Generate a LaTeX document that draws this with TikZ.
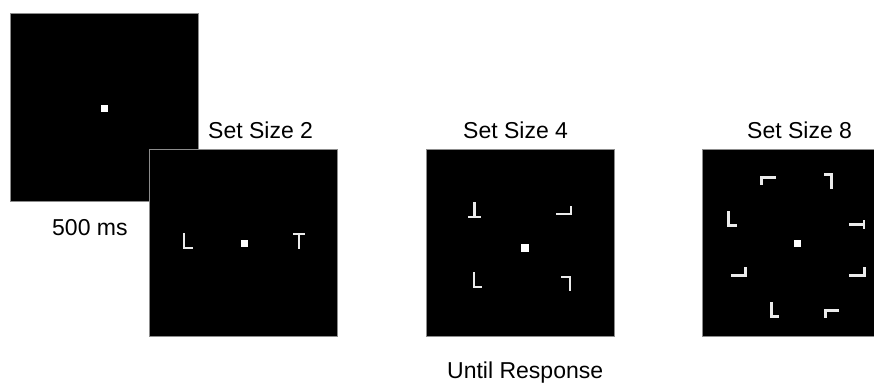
\documentclass[tikz,border=0pt]{standalone}
\usepackage{fontspec}
\setmainfont{Liberation Sans}
\begin{document}
\begin{tikzpicture}[x=1pt,y=-1pt,
  panel/.style={fill=black,draw=black!45,line width=0.8pt},
  stim/.style={draw=white!92!black,line width=2.2pt,line cap=butt},
  fix/.style={fill=white,draw=none},
  lab/.style={anchor=base west,inner sep=0pt,font=\fontsize{23}{26}\selectfont}]
\useasboundingbox (0,0) rectangle (874,383);
\begin{scope}
\clip (0,0) rectangle (874,383);
% panels
\filldraw[panel] (10,13) rectangle (198,201);
\filldraw[panel] (149,149) rectangle (337,336);
\fill[black] (149.6,149.6) rectangle (197.4,200.4);
\filldraw[panel] (426,149) rectangle (614,336);
\filldraw[panel] (702,149) rectangle (892,336);
\end{scope}
% fixations
\fill[fix] (100.5,104.5) rectangle ++(7,7);
\fill[fix] (240.5,239.5) rectangle ++(7,7);
\fill[fix] (521,244) rectangle ++(8,8);
\fill[fix] (793.5,239.5) rectangle ++(7,7);
% set size 2
\draw[stim] (184,233) -- (184,248) -- (193,248);
\draw[stim] (293,234) -- (305,234) (299,234) -- (299,249);
% set size 4
\draw[stim] (474.5,202) -- (474.5,217) (468,217) -- (481,217);
\draw[stim] (556,214) -- (571,214) -- (571,206);
\draw[stim] (474,272) -- (474,287) -- (482,287);
\draw[stim] (561,277) -- (570,277) -- (570,291);
% set size 8
\draw[stim] (776,177.5) -- (761.5,177.5) -- (761.5,185);
\draw[stim] (824,174.5) -- (831.5,174.5) -- (831.5,189);
\draw[stim] (728.5,211) -- (728.5,225.5) -- (737,225.5);
\draw[stim] (849,224.5) -- (864,224.5) (864,220) -- (864,229);
\draw[stim] (731,275.5) -- (745.5,275.5) -- (745.5,267);
\draw[stim] (849,275.5) -- (864.5,275.5) -- (864.5,267);
\draw[stim] (771.5,302) -- (771.5,316.5) -- (779,316.5);
\draw[stim] (839,310.5) -- (825.5,310.5) -- (825.5,318);
% labels
\node[lab] (t2) at (208,138) {Set Size 2};
\node[lab] (t4) at (463,138) {Set Size 4};
\node[lab] (t8) at (747,138) {Set Size 8};
\node[lab] (t500) at (52,235) {500 ms};
\node[lab] (tur) at (447,378) {Until Response};
\end{tikzpicture}
\end{document}
